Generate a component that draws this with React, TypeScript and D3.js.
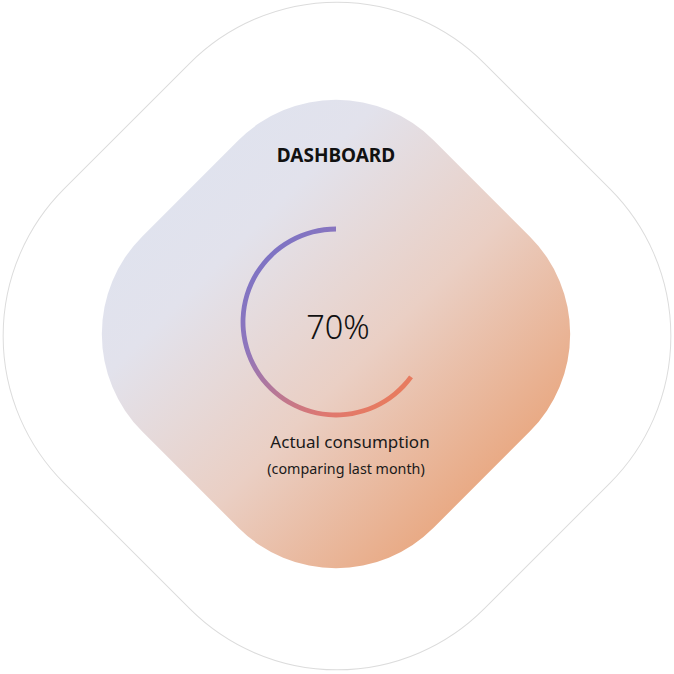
import React from "react";
import * as d3 from "d3";

const W = 674;
const H = 674;

const titleText = ["DASHBOARD"];
const gaugeValues = [70];
const gaugeDomain = [0, 100];
const captionLines = ["Actual consumption", "(comparing last month)"];

export default function App() {
  const value = gaugeValues[0];
  // sweep scale: 0..100 -> angle (counter-clockwise from top)
  const sweep = d3.scaleLinear().domain(gaugeDomain).range([0, -(334 * Math.PI) / 180]);
  const gaugeR = 93;
  const gcx = 336;
  const gcy = 322;
  const arc = d3
    .arc()
    .innerRadius(gaugeR - 2.4)
    .outerRadius(gaugeR + 2.4)
    .startAngle(sweep(value))
    .endAngle(0);
  const arcPath = arc({} as any) as string;

  const outerSide = 594;
  const innerSide = 412;

  return (
    <svg
      width={W}
      height={H}
      style={{ position: "absolute", left: 0, top: 0, display: "block" }}
      fontFamily="'Noto Sans', 'Open Sans', sans-serif"
    >
      <defs>
        <linearGradient id="bgGrad" gradientUnits="userSpaceOnUse" x1={90} y1={334} x2={654} y2={334}>
          <stop offset="0" stopColor="#dfe3ef" />
          <stop offset="0.2" stopColor="#e2e2ec" />
          <stop offset="0.5" stopColor="#eacfc4" />
          <stop offset="1" stopColor="#e8925c" />
        </linearGradient>
        <linearGradient id="arcGrad" gradientUnits="userSpaceOnUse" x1={-76} y1={-82} x2={84} y2={78}>
          <stop offset="0" stopColor="#7a73c6" />
          <stop offset="0.3" stopColor="#8f76bc" />
          <stop offset="0.75" stopColor="#df7870" />
          <stop offset="1" stopColor="#ec7d55" />
        </linearGradient>
      </defs>
      <rect
        x={337 - outerSide / 2}
        y={336 - outerSide / 2}
        width={outerSide}
        height={outerSide}
        rx={208}
        ry={208}
        fill="none"
        stroke="#dcdcdc"
        strokeWidth={1}
        transform="rotate(45 337 336)"
      />
      <rect
        x={336 - innerSide / 2}
        y={334 - innerSide / 2}
        width={innerSide}
        height={innerSide}
        rx={138}
        ry={138}
        fill="url(#bgGrad)"
        transform="rotate(45 336 334)"
      />
      <text x={336} y={162} textAnchor="middle" fontSize={19} fontWeight={700} fill="#111">
        {titleText[0]}
      </text>
      <path d={arcPath} transform={`translate(${gcx},${gcy})`} fill="url(#arcGrad)" />
      <text x={338} y={339} textAnchor="middle" fontSize={32.5} fontWeight={300} fill="#111">
        {`${value}%`}
      </text>
      <text x={350} y={448} textAnchor="middle" fontSize={17} fill="#1a1a1a">
        {captionLines[0]}
      </text>
      <text x={346} y={474} textAnchor="middle" fontSize={14.3} fill="#1a1a1a">
        {captionLines[1]}
      </text>
    </svg>
  );
}
